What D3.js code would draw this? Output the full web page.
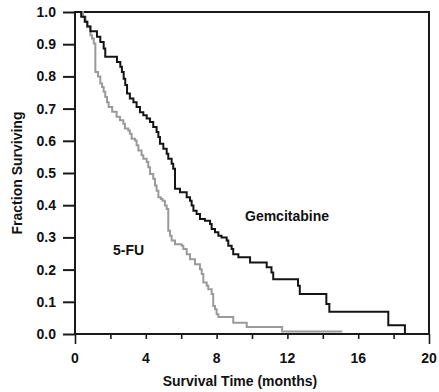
<!DOCTYPE html>
<html>
<head>
<meta charset="utf-8">
<script src="https://cdn.jsdelivr.net/npm/d3@7"></script>
<style>
  html, body { margin: 0; padding: 0; background: #fff; }
  svg { display: block; }
  text { font-family: "Liberation Sans", Arial, Helvetica, sans-serif; font-weight: bold; fill: #111; }
</style>
</head>
<body>
<svg id="chart" width="439" height="392"></svg>
<script>
// ---- data ----
const gemTimes = [0, 0.35, 0.55, 0.7, 0.87, 1.24, 1.43, 1.62, 1.71, 2.37, 2.56, 2.65, 2.75, 2.84, 2.94, 3.1, 3.3, 3.48, 3.67, 3.86, 4.05, 4.24, 4.42, 4.61, 4.71, 4.8, 4.99, 5.18, 5.27, 5.46, 5.55, 5.65, 5.93, 6.31, 6.5, 6.59, 6.69, 6.87, 7.06, 7.34, 7.63, 7.72, 7.91, 8.1, 8.28, 8.57, 8.66, 8.85, 8.94, 9.23, 9.89, 10.83, 11.1, 11.2, 12.6, 12.7, 14.2, 14.37, 17.7, 18.64];
const gemSurv  = [1.0, 0.985, 0.97, 0.955, 0.94, 0.923, 0.907, 0.887, 0.861, 0.845, 0.83, 0.814, 0.793, 0.773, 0.747, 0.731, 0.72, 0.705, 0.689, 0.679, 0.669, 0.658, 0.643, 0.627, 0.612, 0.591, 0.575, 0.56, 0.544, 0.529, 0.513, 0.451, 0.44, 0.425, 0.414, 0.399, 0.383, 0.373, 0.357, 0.352, 0.342, 0.326, 0.316, 0.305, 0.3, 0.29, 0.274, 0.264, 0.248, 0.238, 0.222, 0.207, 0.191, 0.17, 0.15, 0.124, 0.093, 0.069, 0.027, 0];

const fuTimes = [0, 0.45, 0.6, 0.68, 0.87, 0.96, 1.06, 1.15, 1.3, 1.43, 1.53, 1.62, 1.71, 1.81, 1.9, 2.1, 2.35, 2.54, 2.73, 2.82, 3.01, 3.1, 3.2, 3.39, 3.48, 3.58, 3.76, 3.86, 4.05, 4.14, 4.24, 4.42, 4.52, 4.61, 4.71, 4.85, 4.95, 5.08, 5.18, 5.27, 5.37, 5.46, 5.65, 6.03, 6.12, 6.31, 6.5, 6.78, 7.06, 7.16, 7.25, 7.44, 7.53, 7.72, 7.81, 7.91, 8.0, 8.1, 8.94, 9.7, 11.7, 15.1];
const fuSurv  = [1.0, 0.985, 0.97, 0.955, 0.928, 0.918, 0.902, 0.814, 0.8, 0.778, 0.767, 0.752, 0.736, 0.72, 0.705, 0.69, 0.675, 0.664, 0.653, 0.638, 0.632, 0.622, 0.606, 0.601, 0.586, 0.57, 0.555, 0.544, 0.534, 0.518, 0.497, 0.482, 0.461, 0.445, 0.425, 0.419, 0.414, 0.399, 0.388, 0.321, 0.305, 0.29, 0.279, 0.274, 0.264, 0.248, 0.232, 0.217, 0.201, 0.186, 0.16, 0.15, 0.139, 0.124, 0.087, 0.077, 0.061, 0.053, 0.035, 0.022, 0.008, 0.008];

const seriesNames = ["Gemcitabine", "5-FU"];
const yTicks = [0, 0.1, 0.2, 0.3, 0.4, 0.5, 0.6, 0.7, 0.8, 0.9, 1.0];
const xTicks = [0, 2, 4, 6, 8, 10, 12, 14, 16, 18, 20];
const xTickLabels = [0, 4, 8, 12, 16, 20];
const xTitle = "Survival Time (months)";
const yTitle = "Fraction Surviving";

// ---- layout ----
const svg = d3.select("#chart");
const L = 75, R = 429, T = 12, B = 334;
const x = d3.scaleLinear().domain([0, 20]).range([L, R]);
const y = d3.scaleLinear().domain([0, 1]).range([B, T]);
const frameColor = "#1a1a1a";

// y axis
const yAxis = svg.append("g").attr("transform", `translate(${L},0)`)
  .call(d3.axisLeft(y).tickValues(yTicks).tickSize(12).tickPadding(7).tickFormat(d3.format(".1f")));
yAxis.select(".domain").remove();
yAxis.selectAll(".tick line").attr("stroke", frameColor).attr("stroke-width", 2);
yAxis.selectAll(".tick text").attr("font-size", 14).attr("font-family", "Liberation Sans, Arial, sans-serif").attr("font-weight", "bold").attr("fill", "#111");

// x axis ticks
const xAxis = svg.append("g").attr("transform", `translate(0,${B})`)
  .call(d3.axisBottom(x).tickValues(xTicks).tickSize(5).tickFormat(""));
xAxis.select(".domain").remove();
xAxis.selectAll(".tick line").attr("stroke", frameColor).attr("stroke-width", 1.6)
  .attr("y2", d => (d === 0 || d === 20) ? 10 : 5);

// x tick labels
svg.append("g").selectAll("text").data(xTickLabels).join("text")
  .attr("x", d => x(d)).attr("y", 363)
  .attr("text-anchor", "middle").attr("font-size", 14)
  .text(d => d);

// frame
svg.append("rect").attr("x", L).attr("y", T).attr("width", R - L).attr("height", B - T)
  .attr("fill", "none").attr("stroke", frameColor).attr("stroke-width", 2);

// curves
const line = d3.line().x(d => x(d[0])).y(d => y(d[1])).curve(d3.curveStepAfter);
const gem = d3.zip(gemTimes, gemSurv);
const fu = d3.zip(fuTimes, fuSurv);
svg.append("path").attr("d", line(fu)).attr("fill", "none").attr("stroke", "#9a9a9a").attr("stroke-width", 2);
svg.append("path").attr("d", line(gem)).attr("fill", "none").attr("stroke", "#141414").attr("stroke-width", 2);

// series labels
svg.append("text").attr("x", 245).attr("y", 221).attr("font-size", 14).text(seriesNames[0]);
svg.append("text").attr("x", 113).attr("y", 255).attr("font-size", 14).text(seriesNames[1]);

// axis titles
svg.append("text").attr("x", (L + R) / 2 - 12).attr("y", 386).attr("text-anchor", "middle")
  .attr("font-size", 14).text(xTitle);
svg.append("text").attr("transform", `translate(22,${(T + B) / 2}) rotate(-90)`)
  .attr("text-anchor", "middle").attr("font-size", 14).text(yTitle);
</script>
</body>
</html>
